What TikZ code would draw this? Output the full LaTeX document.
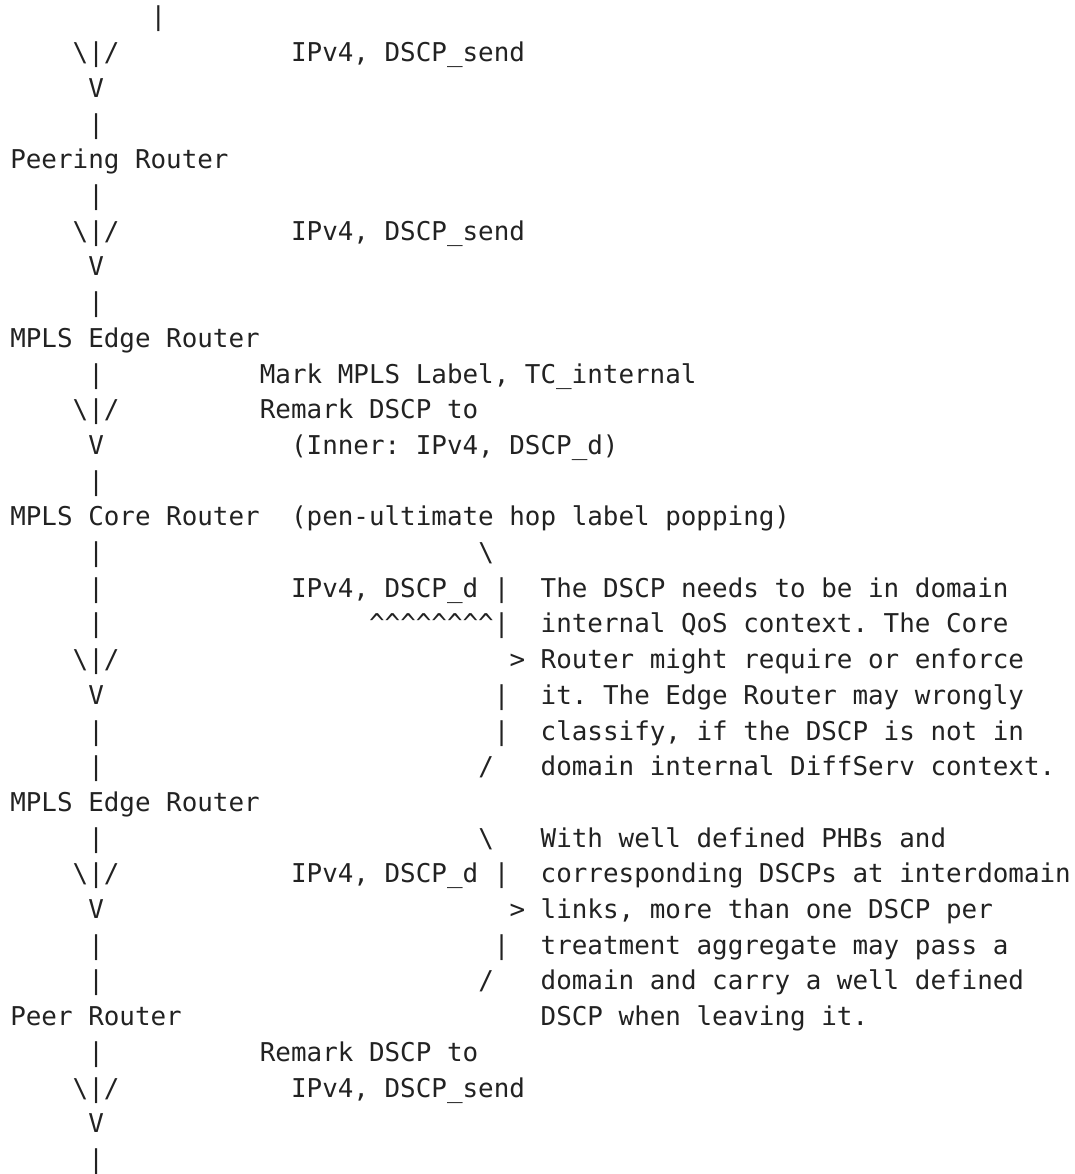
\documentclass[tikz,border=0pt]{standalone}
\usepackage{fontspec}
\newfontfamily\mono{DejaVu Sans Mono}
\definecolor{ink}{RGB}{34,34,34}
\newcommand{\bs}{\textbackslash}
\newcommand{\down}{\bs|/}
\begin{document}
\frenchspacing
\begin{tikzpicture}[x=15.6pt,y=35.7pt,
    txt/.style={anchor=base west,inner sep=0pt,outer sep=0pt,text=ink,font=\fontsize{25.9pt}{35.7pt}\mono}]
            \useasboundingbox (-10.3pt,26pt) rectangle (1063.7pt,-1148pt);
            \node [txt] (in) at (9,0) {|};
            \node [txt] (inA) at (4,-1) {\down};
            \node [txt] (sendA) at (18,-1) {IPv4, DSCP\_send};
            \node [txt] (inB) at (5,-2) {V};
            \node [txt] (inC) at (5,-3) {|};
            \node [txt] (peering) at (0,-4) {Peering Router};
            \node [txt] (pa) at (5,-5) {|};
            \node [txt] (pb) at (4,-6) {\down};
            \node [txt] (sendB) at (18,-6) {IPv4, DSCP\_send};
            \node [txt] (pc) at (5,-7) {V};
            \node [txt] (pd) at (5,-8) {|};
            \node [txt] (edgeA) at (0,-9) {MPLS Edge Router};
            \node [txt] (ea) at (5,-10) {|};
            \node [txt] (mark) at (16,-10) {Mark MPLS Label, TC\_internal};
            \node [txt] (eb) at (4,-11) {\down};
            \node [txt] (remarkA) at (16,-11) {Remark DSCP to};
            \node [txt] (ec) at (5,-12) {V};
            \node [txt] (inner) at (18,-12) {(Inner: IPv4, DSCP\_d)};
            \node [txt] (ed) at (5,-13) {|};
            \node [txt] (core) at (0,-14) {MPLS Core Router};
            \node [txt] (php) at (18,-14) {(pen-ultimate hop label popping)};
            \node [txt] (ca) at (5,-15) {|};
            \node [txt] (brA1) at (30,-15) {\bs};
            \node [txt] (cb) at (5,-16) {|};
            \node [txt] (dA) at (18,-16) {IPv4, DSCP\_d |};
            \node [txt] (noteA1) at (34,-16) {The DSCP needs to be in domain};
            \node [txt] (cc) at (5,-17) {|};
            \node [txt] (carets) at (23,-17) {\textasciicircum\textasciicircum\textasciicircum\textasciicircum\textasciicircum\textasciicircum\textasciicircum\textasciicircum|};
            \node [txt] (noteA2) at (34,-17) {internal QoS context. The Core};
            \node [txt] (cd) at (4,-18) {\down};
            \node [txt] (brA2) at (32,-18) {>};
            \node [txt] (noteA3) at (34,-18) {Router might require or enforce};
            \node [txt] (ce) at (5,-19) {V};
            \node [txt] (brA3) at (31,-19) {|};
            \node [txt] (noteA4) at (34,-19) {it. The Edge Router may wrongly};
            \node [txt] (cf) at (5,-20) {|};
            \node [txt] (brA4) at (31,-20) {|};
            \node [txt] (noteA5) at (34,-20) {classify, if the DSCP is not in};
            \node [txt] (cg) at (5,-21) {|};
            \node [txt] (brA5) at (30,-21) {/};
            \node [txt] (noteA6) at (34,-21) {domain internal DiffServ context.};
            \node [txt] (edgeB) at (0,-22) {MPLS Edge Router};
            \node [txt] (fa) at (5,-23) {|};
            \node [txt] (brB1) at (30,-23) {\bs};
            \node [txt] (noteB1) at (34,-23) {With well defined PHBs and};
            \node [txt] (fb) at (4,-24) {\down};
            \node [txt] (dB) at (18,-24) {IPv4, DSCP\_d |};
            \node [txt] (noteB2) at (34,-24) {corresponding DSCPs at interdomain};
            \node [txt] (fc) at (5,-25) {V};
            \node [txt] (brB2) at (32,-25) {>};
            \node [txt] (noteB3) at (34,-25) {links, more than one DSCP per};
            \node [txt] (fd) at (5,-26) {|};
            \node [txt] (brB3) at (31,-26) {|};
            \node [txt] (noteB4) at (34,-26) {treatment aggregate may pass a};
            \node [txt] (fe) at (5,-27) {|};
            \node [txt] (brB4) at (30,-27) {/};
            \node [txt] (noteB5) at (34,-27) {domain and carry a well defined};
            \node [txt] (peer) at (0,-28) {Peer Router};
            \node [txt] (noteB6) at (34,-28) {DSCP when leaving it.};
            \node [txt] (ga) at (5,-29) {|};
            \node [txt] (remarkB) at (16,-29) {Remark DSCP to};
            \node [txt] (gb) at (4,-30) {\down};
            \node [txt] (sendC) at (18,-30) {IPv4, DSCP\_send};
            \node [txt] (gc) at (5,-31) {V};
            \node [txt] (gd) at (5,-32) {|};
        \end{tikzpicture}
\end{document}
